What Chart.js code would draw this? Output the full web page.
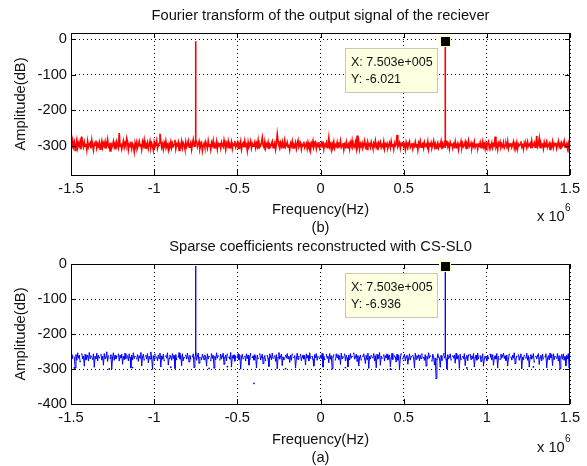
<!DOCTYPE html>
<html><head><meta charset="utf-8">
<script src="https://cdn.jsdelivr.net/npm/chart.js@4.4.0/dist/chart.umd.min.js"></script>
<style>
html,body{margin:0;padding:0;background:#fff;width:587px;height:466px;overflow:hidden}
canvas{position:absolute;left:0;top:0}
</style></head><body>
<canvas id="c1" width="587" height="466"></canvas>
<canvas id="c2" width="587" height="466"></canvas>
<script>
// ---------- data ----------
const freqStart = -1500000;      // Hz, first sample
const freqStep = 5000;           // Hz, sample spacing
const xTickLabels = [-1.5, -1, -0.5, 0, 0.5, 1, 1.5];   // x 10^6 Hz
const yTicksTop = [0, -100, -200, -300];
const yTicksBottom = [0, -100, -200, -300, -400];

// top: spectrum of receiver output (dB)
const receiverNoise = [
-296,-309,-287,-303,-291,-314,-298,-284,-306,-293,-301,-289,-311,-275,-297,-305,-290,-302,-295,-312,
-288,-304,-297,-292,-308,-285,-300,-313,-294,-299,-286,-307,-296,-302,-291,-310,-298,-287,-305,-293,
-301,-289,-309,-296,-283,-303,-298,-315,-292,-306,-299,-288,-304,-295,-311,-290,-300,-307,-265,-302,
-294,-310,-299,-287,-305,-293,-301,-280,-290,-312,-297,-303,-289,-308,-295,-300,-317,-293,-304,-291,
-306,-298,-288,-302,-295,-311,-290,-300,-285,-307,-296,-303,-292,-309,-298,-287,-305,-294,-301,-313,
-291,-303,-297,-286,-308,-299,-293,-267,-288,-305,-296,-310,-292,-301,-287,-304,-298,-312,-295,-300,
-289,-306,-294,-302,-297,-284,-309,-296,-300,-291,-314,-298,-303,-288,-306,-293,-299,-310,-290,-304,
-297,-287,-305,-300,-292,-311,-295,-283,-302,-298,-284,-290,-304,-296,-288,-309,-299,-293,-315,-301,
-294,-305,-290,-299,-308,-287,-302,-296,-311,-292,-300,-286,-306,-298,-303,-289,-310,-295,-301,-293,
-307,-291,-299,-304,-285,-298,-312,-294,-301,-288,-306,-297,-303,-290,-309,-296,-300,-287,-305,-299,
-292,-308,-296,-302,-289,-311,-298,-293,-305,-287,-301,-297,-314,-291,-304,-299,-288,-307,-295,-302,
-298,-290,-306,-294,-303,-286,-309,-297,-301,-292,-278,-300,-305,-289,-307,-296,-302,-291,-310,-298,
-303,-295,-288,-306,-299,-292,-311,-296,-268,-287,-300,-308,-293,-302,-290,-306,-297,-284,-304,-299,
-291,-305,-297,-312,-294,-301,-288,-307,-298,-303,-292,-309,-296,-286,-304,-299,-293,-310,-297,-301,
-289,-306,-300,-294,-308,-291,-302,-297,-313,-293,-300,-287,-305,-298,-292,-309,-296,-303,-290,-307,
-299,-293,-304,-288,-310,-297,-301,-292,-306,-299,-278,-303,-296,-311,-294,-300,-289,-307,-298,-302,
-291,-308,-296,-301,-287,-305,-299,-293,-312,-297,-303,-290,-306,-298,-294,-309,-292,-301,-286,-304,
-298,-303,-291,-307,-272,-300,-289,-310,-295,-302,-293,-306,-299,-287,-304,-297,-311,-292,-300,-296,
-305,-290,-299,-308,-294,-301,-287,-304,-297,-313,-293,-300,-291,-306,-298,-303,-289,-309,-296,-301,
-294,-307,-299,-292,-305,-288,-302,-296,-310,-293,-301,-297,-270,-304,-299,-292,-308,-295,-300,-290,
-303,-297,-311,-291,-300,-306,-294,-288,-305,-299,-293,-309,-297,-302,-290,-304,-296,-312,-293,-301,
-288,-305,-298,-294,-307,-291,-301,-297,-303,-289,-310,-296,-300,-292,-306,-298,-287,-304,-295,-308,
-299,-292,-306,-297,-301,-288,-310,-295,-302,-293,-305,-298,-286,-303,-296,-309,-291,-300,-294,-307,
-296,-302,-289,-306,-298,-293,-311,-297,-300,-288,-305,-294,-303,-299,-290,-308,-295,-301,-287,-304,
-300,-293,-307,-296,-302,-289,-305,-298,-294,-310,-297,-301,-291,-306,-299,-288,-304,-296,-309,-293,
-302,-295,-289,-307,-298,-301,-292,-306,-296,-300,-275,-304,-297,-311,-293,-299,-290,-305,-298,-303,
-291,-306,-299,-294,-303,-288,-308,-297,-301,-293,-305,-298,-289,-307,-295,-302,-291,-309,-296,-300,
-297,-288,-304,-299,-310,-293,-301,-296,-306,-290,-302,-298,-294,-308,-287,-303,-299,-292,-305,-296,
-273,-304,-298,-280,-306,-293,-301,-297,-309,-291,-303,-296,-288,-305,-299,-294,-311,-297,-302,-289,
-306,-295,-300,-292,-308,-298,-288,-303,-296,-310,-293,-301,-297,-287,-305,-299,-294,-309,-296,-318,
-322];

// bottom: sparse coefficients reconstructed with CS-SL0 (dB); null = no coefficient
const sparseCoeffs = [
-258,-271,-263,null,-266,-297,-260,-274,-255,-268,-262,-279,null,-257,-270,-264,-291,-259,-273,-266,
-261,-276,-254,-269,-263,null,-272,-258,-294,-265,-270,-256,-275,-262,-268,null,-259,-273,-264,-288,
-257,-270,-266,-252,-277,-263,null,-269,-260,-299,-267,-255,-274,-261,-270,-264,null,-258,-276,-262,
-268,-259,-285,-265,-272,-256,-270,null,-263,-275,-258,-267,-296,-261,-273,-255,-269,-264,null,-271,
-260,-277,-263,-268,-254,-290,-266,-259,-274,null,-262,-270,-257,-281,-265,-271,-253,-268,-300,-263,
-272,-258,null,-266,-275,-261,-269,-256,-293,-264,-271,-259,-276,null,-263,-268,-255,-287,-270,-262,
-265,-274,-257,-269,-262,-298,-260,-273,null,-266,-254,-271,-263,-289,-258,-275,-267,null,-261,-270,
-256,-268,-279,-262,-271,null,-265,-258,-295,-269,-260,-274,-263,-256,-283,-267,null,-272,-259,-266,
-273,-261,-267,-290,-258,-270,-264,null,-276,-257,-269,-262,-297,-265,-272,-255,-268,-263,null,-274,
-259,-270,-264,-256,-286,-268,-261,-275,-258,null,-266,-271,-254,-293,-263,-269,-260,-277,-265,null,
-268,-257,-273,-262,-299,-266,-259,-271,null,-264,-276,-258,-269,-261,-288,-272,-256,null,-267,-263,
-274,-260,-266,-295,-262,-270,null,-257,-273,-265,-259,-284,-268,-263,-276,null,-261,-270,-292,-258,
-265,-272,-256,-269,null,-263,-277,-260,-298,-267,-254,-271,-264,-259,-289,-266,-273,null,-262,-268,
-257,-270,-265,-280,-261,-274,-258,null,-267,-263,-296,-269,-256,-272,-264,null,-259,-275,-266,-261,
-271,-263,-287,-258,-268,-262,-276,-255,-269,null,-264,-272,-291,-260,-267,-257,-274,-265,null,-270,
-262,-269,-256,-294,-264,-273,null,-259,-268,-265,-281,-257,-271,-263,-299,-266,-260,null,-274,-258,
-267,-260,-272,-263,-286,-256,-270,-265,null,-258,-275,-262,-269,-293,-261,-273,-257,-268,-264,null,
-255,-271,-266,-259,-277,-263,-290,-268,-261,-274,null,-264,-258,-270,-283,-262,-272,-256,-297,-265,
-270,-262,null,-268,-257,-275,-263,-295,-259,-271,-266,-254,-288,-264,-269,null,-260,-276,-263,-267,
-258,-273,-265,-261,-292,-269,-256,-272,null,-263,-267,-279,-259,-274,-262,-300,-268,-257,null,-271,
-264,-259,-276,-266,-262,-285,-270,-258,-273,-265,null,-261,-269,-296,-256,-272,-263,-268,-260,-275,
-262,-270,-257,null,-267,-274,-260,-291,-265,-271,-255,-268,-263,null,-277,-259,-266,-287,-270,-327,
-273,-258,-266,-269,-294,-262,-275,null,-257,-268,-264,-272,-299,-260,-270,-265,-258,-274,null,-263,
-268,-261,-282,-256,-271,-266,-263,-297,-259,-273,null,-265,-270,-257,-289,-268,-262,-275,-260,null,
-259,-272,-264,-269,-257,-293,-267,-261,-274,-256,-270,null,-263,-278,-266,-258,-291,-271,-264,-268,
-276,-262,-270,null,-258,-266,-273,-260,-288,-268,-263,-271,-257,-296,-265,null,-272,-259,-267,-262,
-256,-269,-263,-275,-261,-290,-270,-258,null,-266,-273,-262,-268,-255,-284,-271,-264,null,-260,-274,
-265,-258,-298,-267,-272,-261,null,-269,-256,-274,-263,-293,-268,-260,-271,-266,-257,-280,null,-264,
-270,-263,-257,-286,-268,-262,-275,-259,-271,null,-265,-258,-295,-269,-263,-273,-256,-267,-261,-289,
-258,-272,-264,null,-269,-257,-276,-263,-299,-266,-260,-271,-258,-274,-265,-290,-262,-270,-257,-296,
-263];

// stray low coefficients drawn as dots in the bottom plot
const strayFreqs = [-1480000,-1270000,-1130000,-900000,-670000,-400000,-560000,-210000,150000,420000,880000,1280000];
const strayVals  = [-297,-300,-296,-295,-298,-341,-293,-299,-296,-300,-297,-294];

// tone peaks (Hz, dB) and the floor level right beside them
const peakFreqs = [-750300, 750300];
const peaksTop = [-6.021, -6.021];
const peaksBottom = [-6.936, -6.936];
const peakFloorTop = [-284, -283];
const peakFloorBottom = [-255, -256];
const peakHalfWidth = 300;       // Hz

// data tips
const tipFreq = 750300;
const tipTopY = -6.021;
const tipBottomY = -6.936;

// ---------- helpers ----------
function buildSeries(vals, peaks, floors) {
  const pts = vals.map((v, i) => ({x: freqStart + i * freqStep, y: v}));
  peakFreqs.forEach((f, k) => {
    pts.push({x: f - peakHalfWidth, y: floors[k]});
    pts.push({x: f, y: peaks[k]});
    pts.push({x: f + peakHalfWidth, y: floors[k]});
  });
  pts.sort((a, b) => a.x - b.x);
  return pts;
}

const FONT = '"Liberation Sans", Arial, Helvetica, sans-serif';
const FS = 14.7;

const decorPlugin = {
  id: 'decor',
  afterDraw(chart, args, o) {
    const ctx = chart.ctx, a = chart.chartArea;
    const xs = chart.scales.x, ys = chart.scales.y;
    ctx.save();
    ctx.strokeStyle = '#000'; ctx.lineWidth = 1;
    ctx.beginPath();
    xTickLabels.forEach(t => {
      const px = Math.round(xs.getPixelForValue(t * 1e6)) + 0.5;
      ctx.moveTo(px, a.bottom); ctx.lineTo(px, a.bottom - 5);
      ctx.moveTo(px, a.top); ctx.lineTo(px, a.top + 5);
    });
    o.yTicks.forEach(t => {
      const py = Math.round(ys.getPixelForValue(t)) + 0.5;
      ctx.moveTo(a.left, py); ctx.lineTo(a.left + 5, py);
      ctx.moveTo(a.right, py); ctx.lineTo(a.right - 5, py);
    });
    ctx.stroke();
    ctx.strokeRect(Math.round(a.left) + 0.5, Math.round(a.top) + 0.5,
                   Math.round(a.right - a.left) - 1, Math.round(a.bottom - a.top));
    ctx.fillStyle = '#111';
    ctx.font = FS + 'px ' + FONT;
    ctx.textAlign = 'center'; ctx.textBaseline = 'middle';
    const cx = (a.left + a.right) / 2;
    ctx.fillText(o.title, cx, o.titleY);
    ctx.fillText('Frequency(Hz)', cx, o.xlabelY);
    ctx.fillText(o.sub, cx, o.subY);
    ctx.save();
    ctx.translate(21, (a.top + a.bottom) / 2);
    ctx.rotate(-Math.PI / 2);
    ctx.fillText('Amplitude(dB)', 0, 0);
    ctx.restore();
    ctx.textAlign = 'left';
    ctx.fillText('x 10', 537, o.expY);
    ctx.font = '10px ' + FONT;
    ctx.fillText('6', 565, o.expY - 9);
    const bx = 345.5, by = o.tipBoxY + 0.5, bw = 92, bh = 44;
    ctx.fillStyle = '#ffffe1';
    ctx.fillRect(bx, by, bw, bh);
    ctx.strokeStyle = '#c8c8b4';
    ctx.strokeRect(bx, by, bw, bh);
    ctx.fillStyle = '#111';
    ctx.font = '12.5px ' + FONT;
    ctx.textAlign = 'left';
    ctx.fillText('X: 7.503e+005', 351, by + 14);
    ctx.fillText('Y: ' + o.tipText, 351, by + 31);
    const mx = xs.getPixelForValue(tipFreq), my = ys.getPixelForValue(o.tipY);
    ctx.fillStyle = '#ffffc8';
    ctx.fillRect(Math.round(mx) - 6, Math.round(my) - 6, 12, 12);
    ctx.fillStyle = '#000';
    ctx.fillRect(Math.round(mx) - 4, Math.round(my) - 4, 9, 9);
    ctx.restore();
  }
};

function makeChart(id, cfg) {
  const datasets = [{
    data: buildSeries(cfg.values, cfg.peaks, cfg.floors),
    borderColor: cfg.color, backgroundColor: cfg.color,
    borderWidth: cfg.lineWidth, pointRadius: cfg.pointRadius, pointBorderWidth: 0,
    spanGaps: false, tension: 0, order: 2
  }];
  if (cfg.strayX) {
    datasets.push({
      type: 'scatter',
      data: cfg.strayX.map((f, i) => ({x: f, y: cfg.strayY[i]})),
      backgroundColor: cfg.color, borderWidth: 0, pointRadius: 0.9, order: 1
    });
  }
  return new Chart(document.getElementById(id), {
    type: 'line',
    data: {datasets},
    plugins: [decorPlugin],
    options: {
      responsive: false, animation: false, devicePixelRatio: 1,
      events: [],
      layout: {padding: {top: cfg.padTop, bottom: cfg.padBottom, left: 0, right: 17}},
      plugins: {legend: {display: false}, tooltip: {enabled: false}, title: {display: false},
        decor: cfg.decor},
      scales: {
        x: {
          type: 'linear', min: -1500000, max: 1500000,
          afterBuildTicks: s => { s.ticks = xTickLabels.map(v => ({value: v * 1e6})); },
          afterFit: s => { s.height = cfg.xAxisH; },
          ticks: {callback: v => String(v / 1e6), color: '#111', padding: 5,
                  font: {family: FONT, size: FS}, maxRotation: 0, autoSkip: false},
          grid: {color: '#000', lineWidth: 1, drawTicks: false},
          border: {display: false, dash: [1, 3]}
        },
        y: {
          type: 'linear', min: cfg.yMin, max: cfg.yMax,
          afterBuildTicks: s => { s.ticks = cfg.yTicks.map(v => ({value: v})); },
          afterFit: s => { s.width = 71; },
          ticks: {color: '#111', padding: 4, font: {family: FONT, size: FS}, autoSkip: false},
          grid: {color: '#000', lineWidth: 1, drawTicks: false},
          border: {display: false, dash: [1, 3]}
        }
      }
    }
  });
}

makeChart('c1', {
  values: receiverNoise, peaks: peaksTop, floors: peakFloorTop, color: '#ff0000',
  lineWidth: 1.6, pointRadius: 0,
  yMin: -383, yMax: 17, yTicks: yTicksTop,
  padTop: 33, padBottom: 233, xAxisH: 58,
  decor: {yTicks: yTicksTop, title: 'Fourier transform of the output signal of the reciever',
    titleY: 16, xlabelY: 210, sub: '(b)', subY: 228, expY: 217,
    tipBoxY: 48, tipText: '-6.021', tipY: tipTopY}
});

makeChart('c2', {
  values: sparseCoeffs, peaks: peaksBottom, floors: peakFloorBottom, color: '#0000ff',
  lineWidth: 1, pointRadius: 0.7,
  strayX: strayFreqs, strayY: strayVals,
  yMin: -400, yMax: 0, yTicks: yTicksBottom,
  padTop: 264, padBottom: 0, xAxisH: 62,
  decor: {yTicks: yTicksBottom, title: 'Sparse coefficients reconstructed with CS-SL0',
    titleY: 247, xlabelY: 440, sub: '(a)', subY: 458, expY: 448,
    tipBoxY: 273, tipText: '-6.936', tipY: tipBottomY}
});
</script>
</body></html>
